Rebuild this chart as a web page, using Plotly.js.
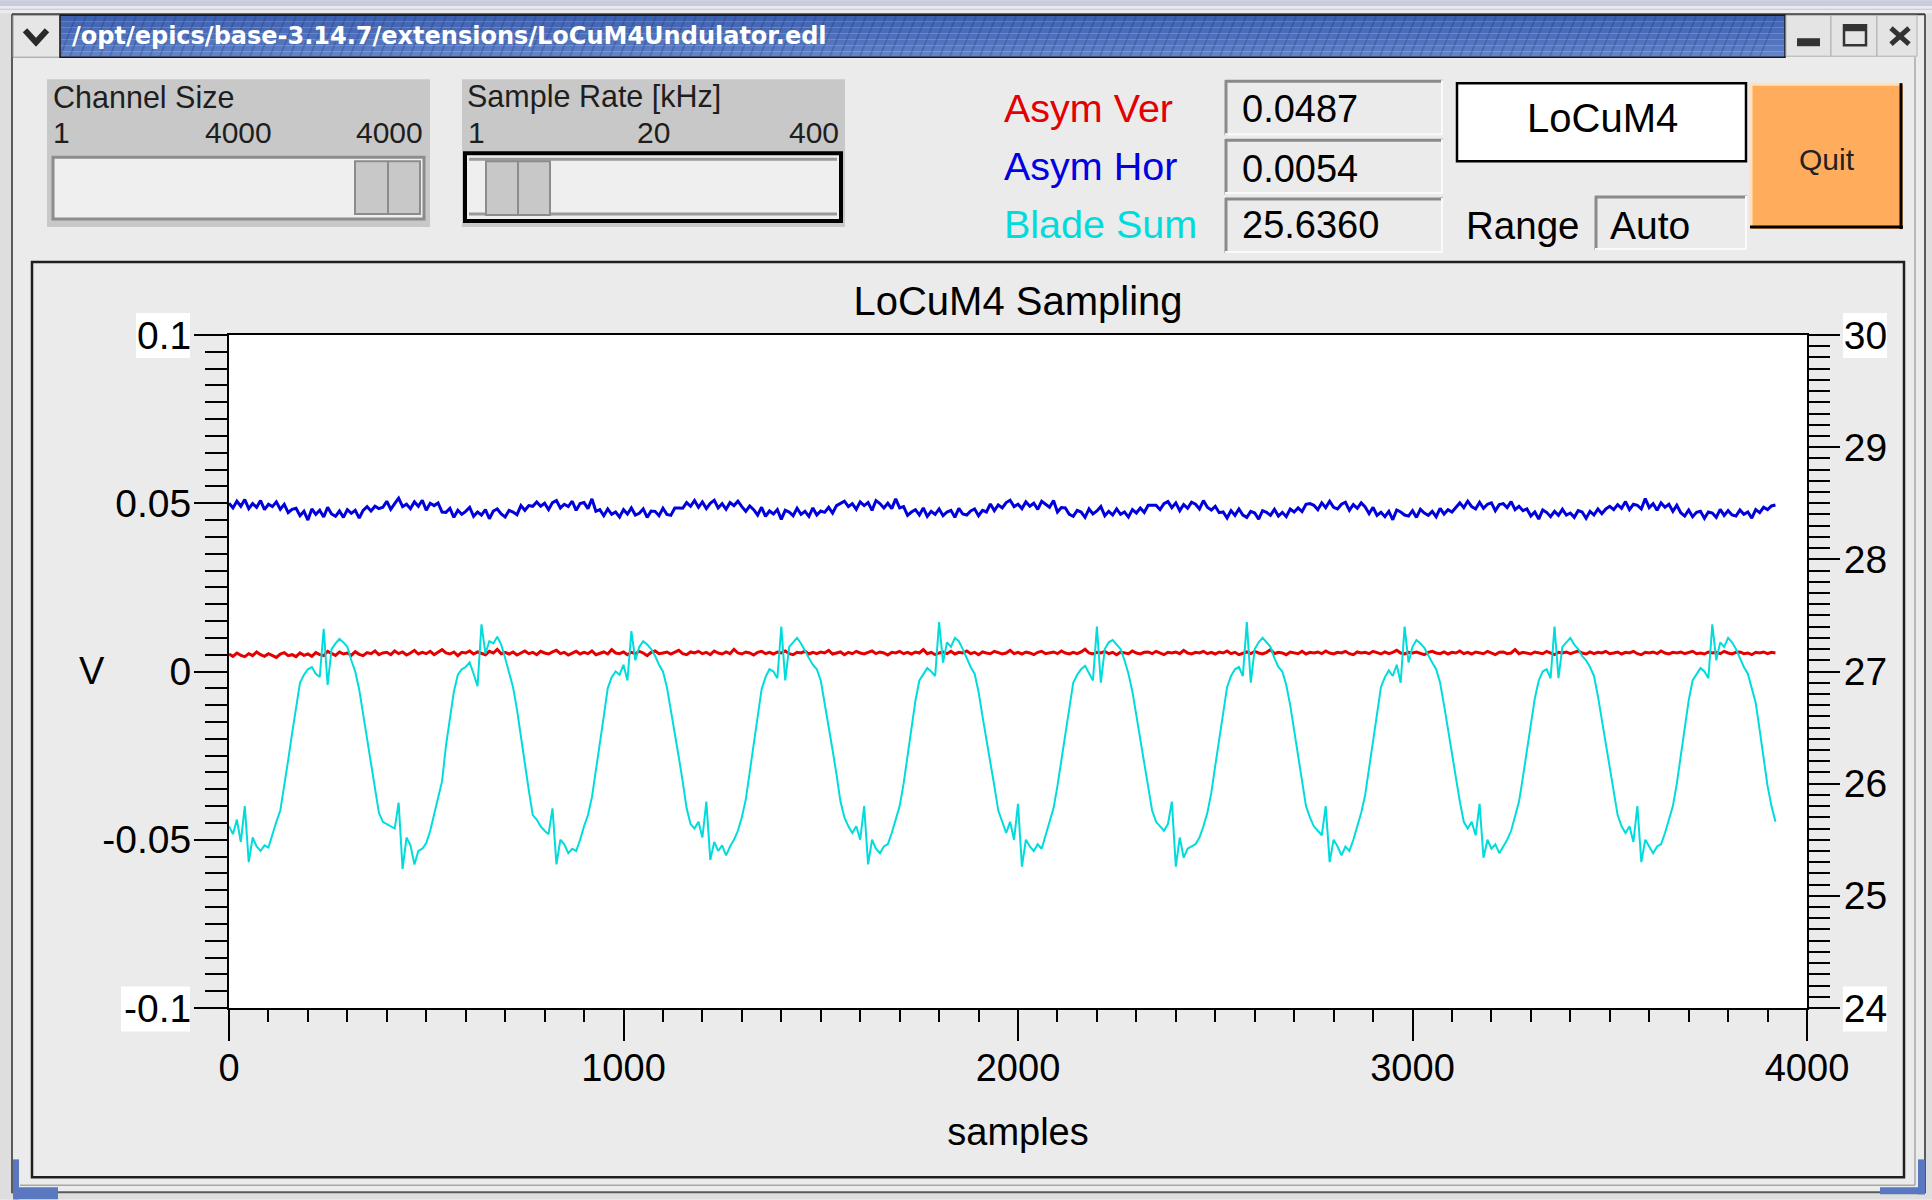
<!DOCTYPE html>
<html>
<head>
<meta charset="utf-8">
<script src="https://cdn.plot.ly/plotly-3.0.1.min.js"></script>
<style>
html,body{margin:0;padding:0;background:#ebebeb;overflow:hidden;}
#chart{width:1932px;height:1200px;}
</style>
</head>
<body>
<div id="chart"></div>
<script>
// ---------------- DATA ----------------
const SAMPLE_STEP = 10;               // one value every 10 samples, 0 .. 3920

// blue trace (left axis, V) ~0.049 with a slow wobble and noise
const blueSignal = [
0.0500,0.0486,0.0506,0.0491,0.0511,0.0484,0.0499,0.0488,0.0508,0.0481,0.0497,0.0490,0.0504,0.0482,0.0497,0.0472,0.0482,0.0485,0.0463,0.0476,0.0450,0.0483,0.0467,0.0479,0.0459,0.0488,0.0468,0.0461,0.0477,0.0458,0.0481,0.0470,0.0479,0.0456,0.0479,0.0490,0.0477,0.0491,0.0484,
0.0488,0.0506,0.0482,0.0499,0.0515,0.0490,0.0497,0.0484,0.0504,0.0491,0.0509,0.0479,0.0500,0.0493,0.0501,0.0474,0.0473,0.0485,0.0458,0.0479,0.0467,0.0476,0.0488,0.0461,0.0474,0.0465,0.0481,0.0454,0.0477,0.0483,0.0468,0.0459,0.0479,0.0474,0.0466,0.0493,0.0479,0.0493,0.0491,
0.0504,0.0491,0.0500,0.0481,0.0502,0.0508,0.0486,0.0497,0.0490,0.0506,0.0479,0.0499,0.0502,0.0484,0.0513,0.0476,0.0481,0.0463,0.0483,0.0467,0.0474,0.0459,0.0481,0.0468,0.0486,0.0465,0.0470,0.0483,0.0458,0.0477,0.0476,0.0463,0.0485,0.0467,0.0464,0.0486,0.0486,0.0485,0.0502,
0.0491,0.0508,0.0488,0.0504,0.0484,0.0500,0.0509,0.0486,0.0499,0.0482,0.0502,0.0493,0.0506,0.0490,0.0476,0.0492,0.0481,0.0465,0.0488,0.0461,0.0477,0.0468,0.0481,0.0452,0.0479,0.0474,0.0463,0.0485,0.0467,0.0476,0.0461,0.0486,0.0465,0.0477,0.0473,0.0488,0.0471,0.0493,0.0500,
0.0506,0.0490,0.0499,0.0482,0.0504,0.0493,0.0502,0.0479,0.0508,0.0499,0.0486,0.0500,0.0484,0.0513,0.0486,0.0490,0.0464,0.0474,0.0481,0.0465,0.0486,0.0461,0.0476,0.0467,0.0483,0.0463,0.0474,0.0479,0.0458,0.0485,0.0468,0.0465,0.0477,0.0483,0.0463,0.0479,0.0474,0.0498,0.0478,0.0495,
0.0486,0.0502,0.0509,0.0490,0.0497,0.0484,0.0504,0.0491,0.0500,0.0482,0.0506,0.0497,0.0488,0.0508,0.0474,0.0487,0.0486,0.0467,0.0461,0.0479,0.0474,0.0458,0.0483,0.0468,0.0477,0.0490,0.0463,0.0476,0.0465,0.0483,0.0467,0.0474,0.0459,0.0481,0.0471,0.0486,0.0473,0.0494,0.0495,
0.0494,0.0481,0.0499,0.0505,0.0487,0.0501,0.0478,0.0496,0.0485,0.0503,0.0497,0.0483,0.0508,0.0488,0.0480,0.0491,0.0472,0.0474,0.0456,0.0478,0.0464,0.0483,0.0465,0.0458,0.0476,0.0471,0.0453,0.0478,0.0473,0.0464,0.0482,0.0462,0.0473,0.0460,0.0483,0.0474,0.0486,0.0475,0.0497,
0.0499,0.0494,0.0481,0.0501,0.0487,0.0506,0.0488,0.0483,0.0497,0.0503,0.0479,0.0496,0.0485,0.0501,0.0489,0.0469,0.0488,0.0464,0.0473,0.0460,0.0476,0.0451,0.0480,0.0474,0.0465,0.0462,0.0478,0.0458,0.0482,0.0471,0.0464,0.0476,0.0460,0.0485,0.0468,0.0481,0.0474,0.0488,0.0501,
0.0487,0.0506,0.0490,0.0483,0.0503,0.0485,0.0497,0.0501,0.0478,0.0496,0.0499,0.0487,0.0505,0.0481,0.0491,0.0478,0.0483,0.0462,0.0474,0.0453,0.0480,0.0473,0.0460,0.0476,0.0464,0.0482,0.0465,0.0471,0.0458,0.0478,0.0474,0.0455,0.0476,0.0465,0.0483,0.0469,0.0483,0.0491,0.0481,
0.0496,0.0485,0.0505,0.0481,0.0497,0.0494,0.0483,0.0514,0.0487,0.0499,0.0479,0.0501,0.0488,0.0497,0.0476,0.0494,0.0472,0.0462,0.0480,0.0460,0.0473,0.0476,0.0455,0.0474,0.0471,0.0458,0.0482,0.0464,0.0478,0.0465,0.0462,0.0480,0.0467,0.0474,0.0456,0.0481,0.0472,0.0488,0.0481,0.0492,
0.0495
];

// red trace (left axis, V) ~0.0055
const redSignal = [
0.0052,0.0045,0.0055,0.0048,0.0044,0.0053,0.0047,0.0058,0.0050,0.0045,
0.0053,0.0048,0.0042,0.0052,0.0056,0.0047,0.0050,0.0044,0.0055,0.0048,
0.0052,0.0045,0.0056,0.0050,0.0047,0.0060,0.0053,0.0048,0.0058,0.0052,
0.0055,0.0048,0.0059,0.0051,0.0047,0.0056,0.0053,0.0061,0.0050,0.0055,
0.0057,0.0050,0.0061,0.0053,0.0058,0.0049,0.0055,0.0063,0.0052,0.0057,
0.0053,0.0060,0.0050,0.0057,0.0065,0.0055,0.0052,0.0058,0.0047,0.0057,
0.0055,0.0061,0.0052,0.0058,0.0053,0.0050,0.0060,0.0055,0.0066,0.0053,
0.0057,0.0052,0.0058,0.0049,0.0055,0.0061,0.0053,0.0057,0.0050,0.0060,
0.0055,0.0052,0.0058,0.0063,0.0053,0.0057,0.0049,0.0055,0.0060,0.0052,
0.0057,0.0053,0.0061,0.0050,0.0055,0.0058,0.0052,0.0065,0.0055,0.0053,
0.0058,0.0050,0.0057,0.0053,0.0060,0.0055,0.0047,0.0057,0.0061,0.0053,
0.0055,0.0058,0.0052,0.0057,0.0063,0.0053,0.0050,0.0058,0.0055,0.0060,
0.0053,0.0057,0.0050,0.0061,0.0055,0.0052,0.0058,0.0053,0.0066,0.0055,
0.0052,0.0058,0.0055,0.0049,0.0057,0.0060,0.0053,0.0057,0.0052,0.0058,
0.0055,0.0061,0.0053,0.0050,0.0057,0.0055,0.0060,0.0052,0.0057,0.0053,
0.0058,0.0055,0.0063,0.0052,0.0055,0.0058,0.0050,0.0057,0.0053,0.0060,
0.0055,0.0052,0.0057,0.0061,0.0053,0.0058,0.0055,0.0049,0.0057,0.0055,
0.0060,0.0053,0.0057,0.0052,0.0058,0.0055,0.0065,0.0053,0.0057,0.0050,
0.0055,0.0058,0.0053,0.0060,0.0052,0.0057,0.0055,0.0061,0.0053,0.0057,
0.0050,0.0058,0.0055,0.0053,0.0060,0.0057,0.0052,0.0055,0.0063,0.0053,
0.0057,0.0052,0.0058,0.0055,0.0050,0.0057,0.0060,0.0053,0.0055,0.0058,
0.0053,0.0061,0.0055,0.0052,0.0057,0.0053,0.0058,0.0066,0.0055,0.0052,
0.0057,0.0055,0.0060,0.0053,0.0057,0.0050,0.0058,0.0055,0.0053,0.0061,
0.0055,0.0052,0.0057,0.0058,0.0053,0.0060,0.0055,0.0050,0.0057,0.0055,
0.0058,0.0053,0.0063,0.0055,0.0052,0.0057,0.0055,0.0060,0.0053,0.0057,
0.0052,0.0058,0.0055,0.0061,0.0053,0.0057,0.0050,0.0055,0.0058,0.0053,
0.0060,0.0055,0.0052,0.0057,0.0065,0.0053,0.0057,0.0055,0.0050,0.0058,
0.0055,0.0053,0.0060,0.0052,0.0057,0.0055,0.0058,0.0053,0.0061,0.0055,
0.0052,0.0057,0.0055,0.0060,0.0053,0.0050,0.0058,0.0055,0.0057,0.0053,
0.0060,0.0055,0.0052,0.0058,0.0053,0.0057,0.0063,0.0055,0.0052,0.0057,
0.0055,0.0058,0.0053,0.0050,0.0057,0.0060,0.0055,0.0053,0.0058,0.0052,
0.0057,0.0055,0.0061,0.0053,0.0057,0.0052,0.0058,0.0055,0.0053,0.0060,
0.0055,0.0050,0.0057,0.0058,0.0053,0.0055,0.0065,0.0053,0.0057,0.0055,
0.0052,0.0058,0.0055,0.0053,0.0060,0.0055,0.0050,0.0057,0.0055,0.0058,
0.0053,0.0057,0.0061,0.0055,0.0052,0.0058,0.0053,0.0057,0.0055,0.0060,
0.0053,0.0055,0.0058,0.0052,0.0057,0.0055,0.0060,0.0053,0.0050,0.0057,
0.0055,0.0058,0.0053,0.0061,0.0055,0.0052,0.0057,0.0055,0.0058,0.0053,
0.0057,0.0060,0.0053,0.0055,0.0052,0.0058,0.0055,0.0057,0.0053,0.0060,
0.0055,0.0052,0.0057,0.0058,0.0053,0.0055,0.0050,0.0057,0.0055,0.0058,
0.0053,0.0057,0.0055
];

// cyan trace "Blade Sum" (right axis, 24..30)
const bladeSum = [
25.62,25.55,25.68,25.48,25.80,25.30,25.52,25.44,25.40,25.45,25.43,25.55,25.66,25.76,25.97,26.21,26.45,26.66,26.90,26.97,27.02,27.04,26.98,26.95,27.38,26.88,27.20,27.25,27.29,27.26,27.22,27.10,27.00,26.84,26.62,26.42,26.21,26.00,25.74,
25.66,25.64,25.62,25.60,25.83,25.24,25.52,25.45,25.28,25.40,25.42,25.47,25.58,25.72,25.86,26.02,26.34,26.58,26.82,26.97,27.02,27.04,27.08,26.98,26.87,27.42,27.16,27.27,27.25,27.31,27.24,27.12,27.00,26.86,26.66,26.40,26.18,25.94,25.72,
25.68,25.62,25.58,25.55,25.78,25.28,25.50,25.46,25.38,25.42,25.40,25.50,25.62,25.72,25.88,26.10,26.36,26.60,26.85,26.95,27.00,26.97,27.06,26.92,27.36,27.10,27.22,27.27,27.24,27.20,27.14,27.06,27.00,26.86,26.66,26.46,26.24,26.02,25.78,
25.64,25.60,25.66,25.52,25.84,25.32,25.48,25.40,25.45,25.36,25.44,25.50,25.58,25.70,25.86,26.10,26.36,26.60,26.84,26.95,27.02,27.00,26.94,27.40,26.92,27.22,27.26,27.30,27.25,27.18,27.12,27.06,27.02,26.92,26.72,26.50,26.30,26.08,25.84,
25.70,25.62,25.56,25.62,25.50,25.80,25.28,25.50,25.42,25.38,25.44,25.46,25.56,25.68,25.80,26.00,26.26,26.50,26.74,26.92,26.98,27.03,27.00,26.96,27.44,27.08,27.26,27.22,27.30,27.27,27.20,27.12,27.04,26.98,26.82,26.60,26.40,26.20,25.98,25.76,
25.66,25.56,25.66,25.50,25.82,25.26,25.50,25.44,25.40,25.46,25.42,25.54,25.66,25.78,25.98,26.22,26.46,26.68,26.90,26.97,27.02,27.05,26.98,26.92,27.40,26.90,27.20,27.26,27.28,27.24,27.20,27.10,26.98,26.82,26.60,26.40,26.18,25.98,25.76,
25.66,25.62,25.58,25.64,25.84,25.26,25.52,25.34,25.42,25.44,25.46,25.52,25.62,25.74,25.92,26.16,26.40,26.62,26.86,26.96,27.02,27.04,26.96,27.44,26.90,27.20,27.26,27.30,27.26,27.22,27.12,27.04,27.00,26.88,26.70,26.48,26.26,26.04,25.80,
25.70,25.62,25.58,25.54,25.80,25.30,25.50,25.44,25.36,25.44,25.40,25.50,25.62,25.74,25.90,26.12,26.38,26.62,26.86,26.95,27.01,26.96,27.06,26.90,27.40,27.08,27.22,27.28,27.25,27.21,27.14,27.08,27.02,26.90,26.70,26.48,26.28,26.06,25.84,
25.66,25.60,25.66,25.54,25.82,25.34,25.50,25.42,25.46,25.38,25.44,25.50,25.58,25.70,25.84,26.06,26.30,26.54,26.76,26.92,27.00,27.02,26.94,27.40,26.94,27.22,27.26,27.30,27.24,27.20,27.14,27.10,27.04,26.96,26.78,26.56,26.34,26.12,25.90,
25.72,25.62,25.56,25.62,25.48,25.80,25.30,25.50,25.44,25.38,25.44,25.46,25.56,25.68,25.80,26.00,26.26,26.50,26.74,26.92,26.98,27.03,27.00,26.94,27.42,27.10,27.26,27.22,27.30,27.26,27.20,27.12,27.04,26.98,26.84,26.72,26.48,26.22,25.98,25.80,
25.66
];

// axes tick labels
const xTickVals = [0, 1000, 2000, 3000, 4000];
const xTickText = ['0', '1000', '2000', '3000', '4000'];
const yTickVals = [-0.1, -0.05, 0, 0.05, 0.1];
const yTickText = ['-0.1', '-0.05', '0', '0.05', '0.1'];
const y2TickVals = [24, 25, 26, 27, 28, 29, 30];
const y2TickText = ['24', '25', '26', '27', '28', '29', '30'];

// panel texts
const windowTitle = '/opt/epics/base-3.14.7/extensions/LoCuM4Undulator.edl';
const readoutLabels = ['Asym Ver', 'Asym Hor', 'Blade Sum'];
const readoutValues = ['0.0487', '0.0054', '25.6360'];
const channelScale = ['1', '4000', '4000'];
const rateScale = ['1', '20', '400'];

// ---------------- STYLE / GEOMETRY ----------------
const FONT = '"Liberation Sans", Arial, sans-serif';
const readoutColors = ['#e40000', '#0000e0', '#00dcdc'];
const L = 229, R = 1807, T = 335, B = 1008.5;      // plot area in px
const X = p => (p - L) / (R - L);
const Y = p => (B - p) / (B - T);
const shapes = [];
const annotations = [];
const NONE = 'rgba(0,0,0,0)';
function rect(x0, y0, x1, y1, fill, lc, lw) {
  shapes.push({type:'rect', xref:'paper', yref:'paper', x0:X(x0), x1:X(x1), y0:Y(y1), y1:Y(y0),
    fillcolor: fill || NONE, line:{color: lc || NONE, width: lw || 0}, layer:'below'});
}
function seg(x0, y0, x1, y1, color, w) {
  shapes.push({type:'line', xref:'paper', yref:'paper', x0:X(x0), x1:X(x1), y0:Y(y0), y1:Y(y1),
    line:{color: color, width: w}, layer:'below'});
}
function poly(pts, color, w) {
  let d = pts.map((p, i) => (i ? 'L' : 'M') + X(p[0]) + ',' + Y(p[1])).join(' ');
  shapes.push({type:'path', xref:'paper', yref:'paper', path:d, line:{color:color, width:w}, layer:'below'});
}
function txt(x, y, text, size, color, xanchor, family, weight) {
  annotations.push({xref:'paper', yref:'paper', x:X(x), y:Y(y), text:text, showarrow:false,
    xanchor: xanchor || 'left', yanchor:'middle', borderpad:0,
    font:{size:size, color:color || '#000', family: family || FONT, weight: weight || 'normal'}});
}
function sunken(x0, y0, x1, y1, fill) {
  rect(x0, y0, x1, y1, fill);
  seg(x0, y0 + 1, x1, y0 + 1, '#8a8a8a', 3);
  seg(x0 + 1, y0, x0 + 1, y1, '#8a8a8a', 3);
  seg(x0, y1 - 1, x1, y1 - 1, '#fafafa', 2);
  seg(x1 - 1, y0, x1 - 1, y1, '#fafafa', 2);
}

// ---- desktop / window chrome ----
rect(0, 0, 1932, 6, '#c9cbe0');
rect(0, 6, 1932, 13, '#ececf0');
seg(0, 9, 1932, 9, '#c4c4c8', 1);
rect(0, 13, 12, 1200, '#dedede');
rect(1925, 13, 1932, 1200, '#dedede');
rect(0, 1194, 1932, 1200, '#dedede');
seg(12, 14, 12, 1194, '#5a5a5a', 2);
seg(1925, 14, 1925, 1194, '#5a5a5a', 2);
seg(12, 1193, 1925, 1193, '#5a5a5a', 2);
seg(1915, 57, 1915, 1186, '#a8a8a8', 1.5);
seg(20, 1186, 1915, 1186, '#a8a8a8', 1.5);
seg(12, 14, 1925, 14, '#3a3a3a', 2);
// resize corners
rect(13, 1160, 19, 1200, '#5a78c0');
rect(13, 1188, 58, 1200, '#5a78c0');
rect(1918, 1160, 1925, 1195, '#5a78c0');
rect(1880, 1188, 1925, 1195, '#5a78c0');

// title bar
rect(13, 15, 60, 57, '#e6e6e6', '#9a9a9a', 1);
poly([[25, 30], [36, 42], [47, 30]], '#2a2a2a', 6);
const barCols = ['#3f62b0', '#4567b4', '#4a6cb8', '#4e70bb', '#5375be', '#597bc3', '#6383c8'];
barCols.forEach((c, i) => rect(60, 15 + i * 6, 1785, 21 + i * 6, c));
let hatch = [];
for (let x = 60; x + 16 <= 1785; x += 10) hatch.push('M' + X(x) + ',' + Y(56) + ' L' + X(x + 16) + ',' + Y(16));
shapes.push({type:'path', xref:'paper', yref:'paper', path:hatch.join(' '), line:{color:'rgba(25,45,115,0.28)', width:1.5}, layer:'below'});
rect(60, 15, 1785, 57, null, '#1a1a1a', 1.5);
rect(1786, 15, 1831, 56, '#e4e4e4', '#b0b0b0', 1);
rect(1831, 15, 1877, 56, '#e4e4e4', '#b0b0b0', 1);
rect(1877, 15, 1917, 56, '#e4e4e4', '#b0b0b0', 1);
rect(1797, 38, 1820, 46, '#333333');
rect(1844, 25, 1866, 45, null, '#333333', 2.5);
rect(1844, 25, 1866, 31, '#333333');
seg(1891, 28, 1909, 44, '#333333', 5);
seg(1909, 28, 1891, 44, '#333333', 5);
txt(71, 36, windowTitle, 24, '#ffffff', 'left', '"DejaVu Sans", sans-serif', 'bold');

// ---- Channel Size slider ----
rect(47, 79, 430, 227, '#c8c8c8');
txt(52, 97, 'Channel Size', 30.5, '#1e1e1e', 'left');
txt(52, 132, channelScale[0], 30, '#1e1e1e', 'left');
txt(238, 132, channelScale[1], 30, '#1e1e1e', 'center');
txt(424, 132, channelScale[2], 30, '#1e1e1e', 'right');
rect(53, 157, 424, 219, '#efefef', '#8c8c8c', 3);
rect(355, 161, 420, 214, '#c8c8c8', '#8c8c8c', 2);
seg(388, 161, 388, 214, '#8c8c8c', 2);

// ---- Sample Rate slider ----
rect(462, 79, 845, 227, '#c8c8c8');
txt(466, 96, 'Sample Rate [kHz]', 30.5, '#1e1e1e', 'left');
txt(467, 132, rateScale[0], 30, '#1e1e1e', 'left');
txt(653, 132, rateScale[1], 30, '#1e1e1e', 'center');
txt(840, 132, rateScale[2], 30, '#1e1e1e', 'right');
rect(465, 153, 841, 221, '#efefef', '#000000', 4);
seg(469, 159, 837, 159, '#9a9a9a', 3);
seg(469, 214, 837, 214, '#9a9a9a', 3);
rect(486, 161, 550, 215, '#c8c8c8', '#8c8c8c', 2);
seg(518, 161, 518, 215, '#8c8c8c', 2);

// ---- readouts ----
const boxY = [[80, 135], [139, 194], [198, 253]];
const labY = [108, 166, 224];
const valY = [109, 169, 225];
readoutLabels.forEach((t, i) => {
  sunken(1225, boxY[i][0], 1443, boxY[i][1], '#ebebeb');
  txt(1003, labY[i], t, 39.5, readoutColors[i], 'left');
  txt(1241, valY[i], readoutValues[i], 38, '#000', 'left');
});

// LoCuM4 box, Quit button, Range
rect(1457, 83, 1746, 161, '#ffffff', '#000000', 2.5);
txt(1602, 118, 'LoCuM4', 40, '#000', 'center');
rect(1750, 83, 1903, 229, '#ffad5c');
seg(1750, 84, 1903, 84, '#ffe0bd', 3);
seg(1751, 83, 1751, 229, '#ffe0bd', 3);
seg(1750, 227, 1903, 227, '#000000', 3);
seg(1901, 83, 1901, 229, '#000000', 3);
txt(1827, 159, 'Quit', 30, '#222', 'center');
txt(1465, 225, 'Range', 38.5, '#000', 'left');
sunken(1595, 196, 1747, 250, '#ebebeb');
txt(1609, 225, 'Auto', 39, '#000', 'left');

// ---- plot frame ----
rect(32, 262, 1904, 1178, null, '#1e1e1e', 2.5);
// white backing behind end labels
rect(136, 313, 190, 358, '#ffffff');
rect(121, 987, 190, 1032, '#ffffff');
rect(1843, 313, 1887, 358, '#ffffff');
rect(1843, 987, 1887, 1032, '#ffffff');
txt(92, 671, 'V', 38, '#000', 'center');

// ---------------- TRACES ----------------
const xs = bladeSum.map((_, i) => i * SAMPLE_STEP);
const traces = [
  {x: xs, y: redSignal, type:'scatter', mode:'lines', line:{color:'#e40000', width:3}, xaxis:'x', yaxis:'y', hoverinfo:'skip'},
  {x: xs, y: blueSignal, type:'scatter', mode:'lines', line:{color:'#0000dc', width:3}, xaxis:'x', yaxis:'y', hoverinfo:'skip'},
  {x: xs, y: bladeSum, type:'scatter', mode:'lines', line:{color:'#00dcdc', width:2}, xaxis:'x', yaxis:'y2', hoverinfo:'skip'}
];

const tickStyle = {ticks:'outside', tickwidth:2, tickcolor:'#000', showgrid:false, zeroline:false};
const layout = {
  width:1932, height:1200, autosize:false,
  margin:{l:L, r:1932 - R, t:T, b:1200 - B, pad:0},
  paper_bgcolor:'#ebebeb', plot_bgcolor:'#ffffff',
  showlegend:false,
  font:{family:FONT, color:'#000'},
  title:{text:'LoCuM4 Sampling', font:{size:40, color:'#000', family:FONT}, x:0.5, xref:'paper', xanchor:'center', y:1 - 301 / 1200, yref:'container', yanchor:'middle'},
  xaxis: Object.assign({}, tickStyle, {range:[0, 4000], tickvals:xTickVals, ticktext:xTickText, ticklen:31,
    ticklabelstandoff:-6,
    showline:true, linecolor:'#000', linewidth:2, mirror:true, tickfont:{size:38, family:FONT},
    minor:{dtick:100, tick0:0, ticks:'outside', ticklen:12, tickwidth:2, tickcolor:'#000', showgrid:false},
    title:{text:'samples', font:{size:38, family:FONT}, standoff:31}}),
  xaxis2: Object.assign({}, tickStyle, {overlaying:'x', anchor:'y', side:'bottom', range:[0, 4000], tick0:0, dtick:200,
    ticklen:20, showticklabels:false, showline:false}),
  yaxis: Object.assign({}, tickStyle, {range:[-0.1, 0.1], tickvals:yTickVals, ticktext:yTickText, ticklen:33,
    ticklabelstandoff:-5,
    showline:true, linecolor:'#000', linewidth:2, tickfont:{size:39, family:FONT},
    minor:{dtick:0.005, tick0:0, ticks:'outside', ticklen:22, tickwidth:2, tickcolor:'#000', showgrid:false}}),
  yaxis2: Object.assign({}, tickStyle, {overlaying:'y', anchor:'x', side:'right', range:[24, 30], tickvals:y2TickVals, ticktext:y2TickText,
    ticklen:31, ticklabelstandoff:-4, showline:true, linecolor:'#000', linewidth:2, tickfont:{size:39, family:FONT},
    minor:{dtick:0.1, tick0:24, ticks:'outside', ticklen:21, tickwidth:2, tickcolor:'#000', showgrid:false}}),
  shapes: shapes,
  annotations: annotations
};

Plotly.newPlot('chart', traces, layout, {staticPlot:true, displayModeBar:false});
</script>
</body>
</html>
